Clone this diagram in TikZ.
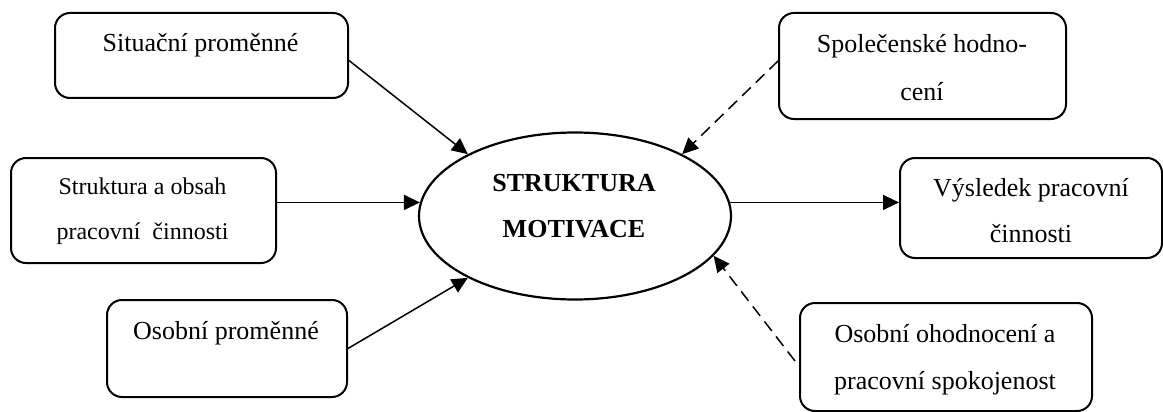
\documentclass[tikz,border=0pt]{standalone}
\usepackage{fontspec}
\setmainfont{Liberation Serif}
\usetikzlibrary{arrows.meta,shapes.geometric,calc}
\begin{document}
\begin{tikzpicture}[x=1pt,y=-1pt,
  box/.style={draw,line width=2pt,rounded corners=15pt,inner sep=0pt,anchor=north west},
  txt/.style={anchor=base,inner sep=0pt,font=\fontsize{26}{30}\selectfont},
  txts/.style={anchor=base,inner sep=0pt,font=\fontsize{24}{28}\selectfont},
  conn/.style={line width=1.5pt,-{Triangle[length=16pt,width=15pt]}},
  dconn/.style={conn,dash pattern=on 12pt off 7pt}]
\useasboundingbox (0,0) rectangle (1163,412);
% boxes
\node[box,minimum width=293pt,minimum height=85pt] (b1) at (54,12) {};
\node[box,minimum width=265pt,minimum height=105pt] (b2) at (10,157) {};
\node[box,minimum width=240pt,minimum height=97pt] (b3) at (106,299) {};
\node[box,minimum width=287pt,minimum height=106pt] (b4) at (778,12) {};
\node[box,minimum width=262pt,minimum height=100pt] (b5) at (899,157) {};
\node[box,minimum width=292pt,minimum height=108pt] (b6) at (799,302) {};
\node[draw,ellipse,line width=2.2pt,minimum width=312pt,minimum height=167pt,inner sep=0pt] (ell) at (575,216) {};
% texts
\node[txt] (t1) at (200.5,52) {Situační proměnné};
\node[txts] (t2a) at (142.5,194) {Struktura a obsah};
\node[txts] (t2b) at (142.5,239) {pracovní\ \ činnosti};
\node[txt] (t3) at (226,339) {Osobní proměnné};
\node[txt,font=\fontsize{26}{30}\selectfont\bfseries] (te1) at (574,191) {STRUKTURA};
\node[txt,font=\fontsize{26}{30}\selectfont\bfseries] (te2) at (574,237) {MOTIVACE};
\node[txt] (t4a) at (922,53) {Společenské hodno-};
\node[txt] (t4b) at (922,100) {cení};
\node[txt] (t5a) at (1031,196) {Výsledek pracovní};
\node[txt] (t5b) at (1031,242) {činnosti};
\node[txt] (t6a) at (945,342) {Osobní ohodnocení a};
\node[txt] (t6b) at (945,389) {pracovní spokojenost};
% connectors
\draw[conn] ($(b1.east)+(0,5)$) -- (ell.150);
\draw[conn] (b2.east |- ell.175) -- (ell.175);
\draw[conn] (b3.east) -- (ell.210);
\draw[dconn] ($(b4.west)+(0,-5)$) -- (ell.30);
\draw[conn] (ell.5) -- (ell.5 -| b5.west);
\draw[dconn] ($(b6.west)+(-4,4)$) -- (ell.-16);
\end{tikzpicture}
\end{document}
